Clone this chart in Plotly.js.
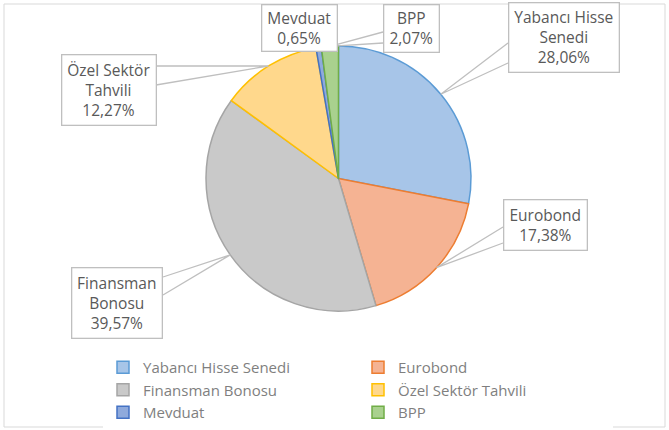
<!DOCTYPE html>
<html>
<head>
<meta charset="utf-8">
<script src="https://cdn.plot.ly/plotly-3.0.1.min.js"></script>
<style>html,body{margin:0;padding:0;background:#fff;}#chart{width:669px;height:430px;}</style>
</head>
<body>
<div id="chart"></div>
<script>
// ---- data ----
const labels = ['Yabancı Hisse Senedi', 'Eurobond', 'Finansman Bonosu', 'Özel Sektör Tahvili', 'Mevduat', 'BPP'];
const values = [28.06, 17.38, 39.57, 12.27, 0.65, 2.07];
const calloutNames = ['Yabancı Hisse<br>Senedi', 'Eurobond', 'Finansman<br>Bonosu', 'Özel Sektör<br>Tahvili', 'Mevduat', 'BPP'];

// ---- styles ----
const fillColors = ['#A7C5E8', '#F5B393', '#C9C9C9', '#FFD88C', '#8FAADC', '#A9D18E'];
const lineColors = ['#5B9BD5', '#ED7D31', '#A5A5A5', '#FFC000', '#4472C4', '#70AD47'];

const W = 669, H = 430;
const cx = 338.5, cy = 178.5, R = 132.5;          // pie geometry in px
// callout boxes [left, top, right, bottom] in px
const boxes = [
  [508, 3, 619, 73],
  [503, 200, 587, 251],
  [72, 267, 163, 338],
  [61, 54, 156, 125],
  [261, 4, 337, 51],
  [383, 4, 439, 52]
];
// leader attach points on box edge (px)
const attach = [
  [[508, 43], [508, 63]],
  [[503, 227], [503, 243]],
  [[163, 277], [163, 295]],
  [[156, 66], [156, 85]],
  null,
  [[383, 32], [383, 43]]
];

const px = x => x / W;
const py = y => 1 - y / H;

const total = values.reduce((a, b) => a + b, 0);
let cum = 0;
const tips = values.map(v => {
  const mid = (cum + v / 2) / total * 2 * Math.PI;
  cum += v;
  return [cx + R * Math.sin(mid), cy - R * Math.cos(mid)];
});

const annotations = [];
const shapes = [];
labels.forEach((lab, i) => {
  const b = boxes[i];
  const pct = values[i].toFixed(2).replace('.', ',') + '%';
  annotations.push({
    xref: 'paper', yref: 'paper',
    x: px((b[0] + b[2]) / 2), y: py((b[1] + b[3]) / 2),
    xanchor: 'center', yanchor: 'middle',
    width: b[2] - b[0] - 2, height: b[3] - b[1] - 2,
    text: calloutNames[i] + '<br>' + pct,
    showarrow: false,
    align: 'center', valign: 'middle',
    bgcolor: '#FFFFFF', bordercolor: '#BFBFBF', borderwidth: 1.3, borderpad: 0,
    font: {family: 'Open Sans, sans-serif', size: 15.5, color: '#595959'}
  });
  if (attach[i]) {
    const a = attach[i], t = tips[i];
    shapes.push({
      type: 'path', xref: 'paper', yref: 'paper',
      path: `M${px(a[0][0])},${py(a[0][1])} L${px(t[0])},${py(t[1])} L${px(a[1][0])},${py(a[1][1])}`,
      line: {color: '#BFBFBF', width: 1.3}
    });
  }
});
// outer chart border
shapes.push({
  type: 'rect', xref: 'paper', yref: 'paper',
  x0: px(4), x1: px(665), y0: py(427), y1: py(4),
  line: {color: '#D9D9D9', width: 1}
});

const trace = {
  type: 'pie',
  labels: labels,
  values: values,
  sort: false,
  direction: 'clockwise',
  rotation: 0,
  textinfo: 'none',
  hoverinfo: 'label+percent',
  marker: {colors: fillColors, line: {color: lineColors, width: 1.5}},
  domain: {x: [px(cx - R), px(cx + R)], y: [py(cy + R), py(cy - R)]}
};

const layout = {
  width: W, height: H,
  margin: {l: 0, r: 0, t: 0, b: 0},
  paper_bgcolor: '#FFFFFF',
  showlegend: true,
  legend: {
    orientation: 'h',
    x: px(103), y: py(351), xanchor: 'left', yanchor: 'top',
    entrywidth: 210, entrywidthmode: 'pixels',
    font: {family: 'Open Sans, sans-serif', size: 15, color: '#7F7F7F'},
    itemwidth: 30, traceorder: 'normal'
  },
  annotations: annotations,
  shapes: shapes
};

Plotly.newPlot('chart', [trace], layout, {displayModeBar: false, staticPlot: true});
</script>
</body>
</html>
